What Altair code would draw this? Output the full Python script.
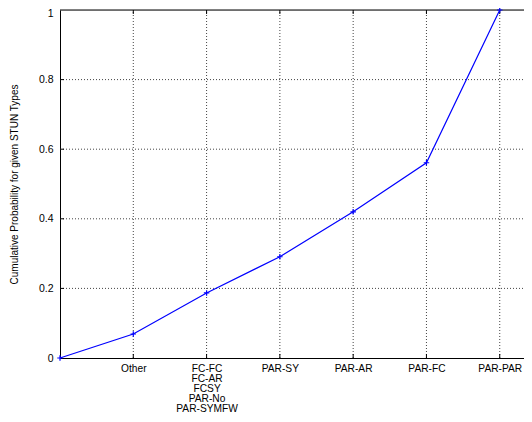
import json
import altair as alt
import pandas as pd

# ---- data ----
label_lines = [
    [""],
    ["Other"],
    ["FC-FC", "FC-AR", "FCSY", "PAR-No", "PAR-SYMFW"],
    ["PAR-SY"],
    ["PAR-AR"],
    ["PAR-FC"],
    ["PAR-PAR"],
]
probs = [0.0, 0.069, 0.187, 0.291, 0.42, 0.561, 1.0]
y_ticks = [0, 0.2, 0.4, 0.6, 0.8, 1]

positions = list(range(len(label_lines)))
df = pd.DataFrame({"pos": positions, "prob": probs})
df_x = pd.DataFrame({"pos": positions[1:]})
df_y = pd.DataFrame({"yv": y_ticks[1:-1]})

FONT = "Liberation Sans"
XMAX = 6.331
xscale = alt.Scale(domain=[0, XMAX], nice=False, zero=False)
yscale = alt.Scale(domain=[0, 1], nice=False, zero=False)

label_expr = json.dumps(label_lines) + "[datum.value]"

x_axis = alt.Axis(values=positions[1:], labelExpr=label_expr, grid=False, ticks=False,
                  domain=True, domainColor="black", domainWidth=1,
                  labelPadding=5, labelFontSize=10.2, labelLineHeight=10,
                  labelColor="black", labelFont=FONT, labelOverlap=False, labelFlush=False,
                  title=None)
y_axis = alt.Axis(values=y_ticks, labelExpr="format(datum.value, '~g')", grid=False,
                  ticks=False, domain=True, domainColor="black", domainWidth=1,
                  labelPadding=7, labelFontSize=10.5,
                  labelOffset={"condition": {"test": "datum.value == 1", "value": 3.5}, "value": 0},
                  labelColor="black", labelFont=FONT, labelOverlap=False, labelFlush=False,
                  title="Cumulative Probability for given STUN Types",
                  titleFont=FONT, titleFontSize=10, titleFontWeight="normal",
                  titleColor="black", titleX=-46, titleY=174, titleAngle=-90,
                  titleAlign="center", titleBaseline="middle")

grid_style = dict(color="#444", strokeDash=[1, 2], strokeWidth=1)

vgrid = alt.Chart(df_x).mark_rule(**grid_style).encode(
    x=alt.X("pos:Q", scale=xscale), y=alt.datum(0), y2=alt.datum(1))
hgrid = alt.Chart(df_y).mark_rule(**grid_style).encode(
    y=alt.Y("yv:Q", scale=yscale), x=alt.datum(0), x2=alt.datum(XMAX))

top_border = alt.Chart(pd.DataFrame({"yv": [y_ticks[-1]]})).mark_rule(
    color="black", strokeWidth=1).encode(
    y=alt.Y("yv:Q", scale=yscale), x=alt.datum(0), x2=alt.datum(XMAX))

tick_style = dict(color="black", strokeWidth=1)
bticks = alt.Chart(df_x).mark_rule(**tick_style).encode(
    x=alt.X("pos:Q", scale=xscale), y=alt.datum(0), y2=alt.datum(0.0115))
tticks = alt.Chart(df_x).mark_rule(**tick_style).encode(
    x=alt.X("pos:Q", scale=xscale), y=alt.datum(1), y2=alt.datum(0.9885))
lticks = alt.Chart(df_y).mark_rule(**tick_style).encode(
    y=alt.Y("yv:Q", scale=yscale), x=alt.datum(0), x2=alt.datum(0.055))

line = alt.Chart(df).mark_line(color="#0000ff", strokeWidth=1.2).encode(
    x=alt.X("pos:Q", scale=xscale, axis=x_axis),
    y=alt.Y("prob:Q", scale=yscale, axis=y_axis),
)
pts = alt.Chart(df).mark_point(shape="M-1,0L1,0M0,-1L0,1", filled=False, size=30,
                               color="#0000ff", strokeWidth=1.2, opacity=1).encode(
    x=alt.X("pos:Q", scale=xscale), y=alt.Y("prob:Q", scale=yscale))

chart = alt.layer(vgrid, hgrid, top_border, bticks, tticks, lticks, line, pts).properties(
    width=464, height=348,
    autosize=alt.AutoSizeParams(type="none"),
    padding={"left": 52, "top": 2, "right": 0, "bottom": 56},
).configure_view(stroke=None).configure(background="white")

chart.save("out.html", embed_options={"renderer": "svg", "actions": False})
